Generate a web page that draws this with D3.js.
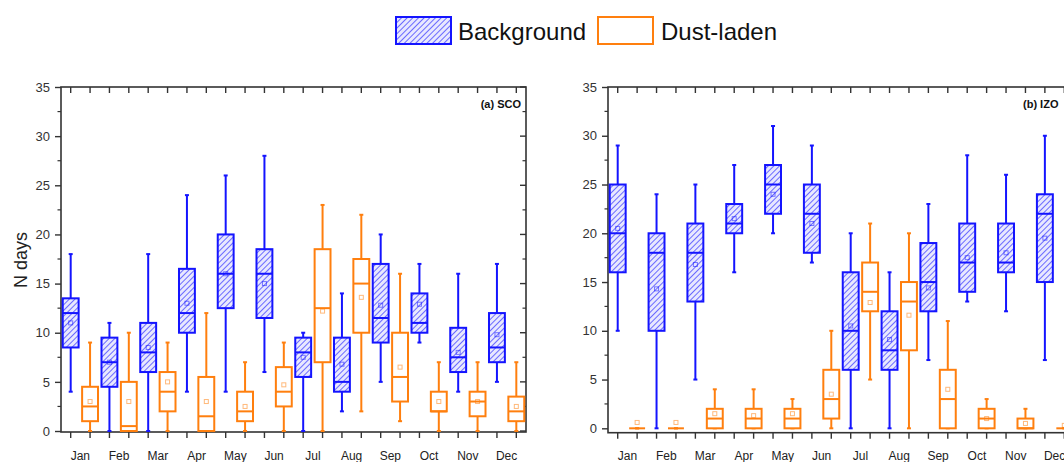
<!DOCTYPE html>
<html>
<head>
<meta charset="utf-8">
<script src="https://cdn.jsdelivr.net/npm/d3@7"></script>
<style>
  body { margin: 0; background: #fff; }
  svg { display: block; font-family: Arial, "Liberation Sans", sans-serif; }
</style>
</head>
<body>
<svg id="chart" width="1064" height="462"></svg>
<script>
// month categories
const months = ["Jan", "Feb", "Mar", "Apr", "May", "Jun", "Jul", "Aug", "Sep", "Oct", "Nov", "Dec"];
const yTicks = [0, 5, 10, 15, 20, 25, 30, 35];

// each entry: [whiskerLow, q1, median, q3, whiskerHigh, mean]
const scoBackground = [
  [4, 8.5, 12, 13.5, 18, 11], [0, 4.5, 7, 9.5, 11, 7], [0, 6, 8, 11, 18, 8.5],
  [4, 10, 12, 16.5, 24, 13], [4, 12.5, 16, 20, 26, 16], [6, 11.5, 16, 18.5, 28, 15],
  [0, 5.5, 8, 9.5, 10, 7.5], [2, 4, 5, 9.5, 14, 6.8], [5, 9, 11.5, 17, 20, 12.8],
  [9, 10, 11, 14, 17, 12.9], [4, 6, 7.5, 10.5, 16, 8], [5, 7, 8.5, 12, 17, 9.8]
];
const scoDust = [
  [0, 1, 2.5, 4.5, 9, 3], [0, 0, 0.5, 5, 10, 3], [0, 2, 4, 6, 9, 5],
  [0, 0, 1.5, 5.5, 12, 3], [0, 1, 2, 4, 7, 2.5], [0, 2.5, 4, 6.5, 9, 4.7],
  [0, 7, 12.5, 18.5, 23, 12.2], [2, 10, 15, 17.5, 22, 13.6], [1, 3, 5.5, 10, 16, 6.5],
  [0, 2, 2, 4, 7, 3], [0, 1.5, 3, 4, 7, 3], [0, 1, 2, 3.5, 7, 2.5]
];
const izoBackground = [
  [10, 16, 20, 25, 29, 20.5], [0, 10, 18, 20, 24, 14.3], [5, 13, 18, 21, 25, 16.8],
  [16, 20, 21, 23, 27, 21.5], [20, 22, 25, 27, 31, 24], [17, 18, 22, 25, 29, 21],
  [0, 6, 10, 16, 20, 10.5], [0, 6, 8, 12, 16, 9.1], [7, 12, 15, 19, 23, 14.4],
  [13, 14, 17, 21, 28, 17.5], [12, 16, 17, 21, 26, 18], [7, 15, 22, 24, 30, 19.5]
];
const izoDust = [
  [0, 0, 0, 0, 0, 0.6], [0, 0, 0, 0, 0, 0.6], [0, 0, 1, 2, 4, 1.5],
  [0, 0, 1, 2, 4, 1.3], [0, 0, 1, 2, 3, 1.5], [0, 1, 3, 6, 10, 3.5],
  [5, 12, 14, 17, 21, 12.9], [0, 8, 13, 15, 20, 11.6], [0, 0, 3, 6, 11, 4],
  [0, 0, 1, 2, 3, 1], [0, 0, 0, 1, 2, 0.5], [0, 0, 0, 0, 0, 0.3]
];

const blue = "#1414ff";
const orange = "#ff7f0e";
const axisColor = "#333";

const svg = d3.select("#chart");

// hatch pattern for background boxes
const defs = svg.append("defs");
const pat = defs.append("pattern")
  .attr("id", "hatch")
  .attr("patternUnits", "userSpaceOnUse")
  .attr("width", 4).attr("height", 4)
  .attr("patternTransform", "rotate(45)");
pat.append("rect").attr("width", 4).attr("height", 4).attr("fill", "#e8e8ff");
pat.append("line").attr("x1", 0).attr("y1", 0).attr("x2", 0).attr("y2", 4)
  .attr("stroke", "#4040ff").attr("stroke-width", 1.5);

function drawPanel(opts) {
  const g = svg.append("g");
  const x = d3.scaleBand().domain(d3.range(24)).range([opts.left, opts.right]);
  const y = d3.scaleLinear().domain([opts.yMin, 35]).range([opts.bottom, opts.top]);
  const bw = x.bandwidth();
  const boxW = bw * 0.82;

  // frame
  g.append("rect")
    .attr("x", opts.left).attr("y", opts.top)
    .attr("width", opts.right - opts.left).attr("height", opts.bottom - opts.top)
    .attr("fill", "none").attr("stroke", axisColor).attr("stroke-width", 1.6);

  // left axis
  const yAxis = d3.axisLeft(y).tickValues(yTicks).tickSize(6).tickPadding(5);
  const ya = g.append("g").attr("transform", `translate(${opts.left},0)`).call(yAxis);
  ya.select(".domain").remove();
  ya.selectAll("line").attr("stroke", axisColor).attr("stroke-width", 1.4);
  ya.selectAll("text").attr("font-size", 13).attr("fill", "#333")
    .attr("font-family", "Arial, 'Liberation Sans', sans-serif");
  // minor ticks
  const minor = d3.range(2.5, 35, 5);
  g.selectAll(".minorL").data(minor).enter().append("line")
    .attr("x1", opts.left - 3.5).attr("x2", opts.left)
    .attr("y1", d => y(d)).attr("y2", d => y(d))
    .attr("stroke", axisColor).attr("stroke-width", 1.2);
  // right inward ticks
  g.selectAll(".majorR").data(yTicks).enter().append("line")
    .attr("x1", opts.right - 6).attr("x2", opts.right)
    .attr("y1", d => y(d)).attr("y2", d => y(d))
    .attr("stroke", axisColor).attr("stroke-width", 1.4);
  g.selectAll(".minorR").data(minor).enter().append("line")
    .attr("x1", opts.right - 3.5).attr("x2", opts.right)
    .attr("y1", d => y(d)).attr("y2", d => y(d))
    .attr("stroke", axisColor).attr("stroke-width", 1.2);

  // bottom ticks (outward) and top ticks (inward)
  const centers = d3.range(24).map(i => x(i) + bw / 2);
  g.selectAll(".tb").data(centers).enter().append("line")
    .attr("x1", d => d).attr("x2", d => d)
    .attr("y1", opts.bottom).attr("y2", opts.bottom + 6)
    .attr("stroke", axisColor).attr("stroke-width", 1.4);
  g.selectAll(".tt").data(centers).enter().append("line")
    .attr("x1", d => d).attr("x2", d => d)
    .attr("y1", opts.top).attr("y2", opts.top + 6)
    .attr("stroke", axisColor).attr("stroke-width", 1.4);

  // month labels
  g.selectAll(".month").data(months).enter().append("text")
    .attr("x", (d, i) => x(2 * i + 1))
    .attr("y", 460)
    .attr("text-anchor", "middle")
    .attr("font-size", 12).attr("fill", "#222")
    .text(d => d);

  // panel label
  g.append("text")
    .attr("x", opts.labelX).attr("y", 108)
    .attr("text-anchor", opts.labelAnchor)
    .attr("font-size", 11).attr("font-weight", "bold").attr("fill", "#111")
    .text(opts.label);

  function boxes(data, offset, color, fill) {
    data.forEach((d, i) => {
      const cx = x(2 * i + offset) + bw / 2;
      const [lo, q1, med, q3, hi, mean] = d;
      const bg = g.append("g");
      // whiskers
      bg.append("line").attr("x1", cx).attr("x2", cx).attr("y1", y(hi)).attr("y2", y(q3))
        .attr("stroke", color).attr("stroke-width", 2);
      bg.append("line").attr("x1", cx).attr("x2", cx).attr("y1", y(q1)).attr("y2", y(lo))
        .attr("stroke", color).attr("stroke-width", 2);
      [lo, hi].forEach(v => {
        bg.append("line").attr("x1", cx - 2).attr("x2", cx + 2).attr("y1", y(v)).attr("y2", y(v))
          .attr("stroke", color).attr("stroke-width", 2);
      });
      // box
      bg.append("rect")
        .attr("x", cx - boxW / 2).attr("y", y(q3))
        .attr("width", boxW).attr("height", Math.max(0, y(q1) - y(q3)))
        .attr("fill", fill).attr("stroke", color).attr("stroke-width", 2);
      // median
      bg.append("line").attr("x1", cx - boxW / 2).attr("x2", cx + boxW / 2)
        .attr("y1", y(med)).attr("y2", y(med))
        .attr("stroke", color).attr("stroke-width", 2);
      // mean marker
      bg.append("rect")
        .attr("x", cx - 2).attr("y", y(mean) - 2)
        .attr("width", 4).attr("height", 4)
        .attr("fill", "none").attr("stroke", color).attr("stroke-width", 1)
        .attr("opacity", 0.55);
    });
  }
  boxes(opts.bg, 0, blue, "url(#hatch)");
  boxes(opts.dust, 1, orange, "#fff");
}

drawPanel({ left: 61, right: 526, top: 87, bottom: 432, yMin: -0.1,
  bg: scoBackground, dust: scoDust, label: "(a) SCO", labelX: 521, labelAnchor: "end" });
drawPanel({ left: 608, right: 1074, top: 87, bottom: 432.7, yMin: -0.45,
  bg: izoBackground, dust: izoDust, label: "(b) IZO", labelX: 1023, labelAnchor: "start" });

// y axis title
svg.append("text")
  .attr("transform", "translate(27,260) rotate(-90)")
  .attr("text-anchor", "middle")
  .attr("font-size", 18).attr("fill", "#222")
  .text("N days");

// legend
const legend = svg.append("g");
legend.append("rect").attr("x", 396).attr("y", 17).attr("width", 55).attr("height", 27)
  .attr("fill", "url(#hatch)").attr("stroke", blue).attr("stroke-width", 2);
legend.append("text").attr("x", 458).attr("y", 40).attr("font-size", 24).attr("fill", "#111")
  .text("Background");
legend.append("rect").attr("x", 598).attr("y", 17).attr("width", 55).attr("height", 27)
  .attr("fill", "#fff").attr("stroke", orange).attr("stroke-width", 2);
legend.append("text").attr("x", 661).attr("y", 40).attr("font-size", 24).attr("fill", "#111")
  .text("Dust-laden");
</script>
</body>
</html>
